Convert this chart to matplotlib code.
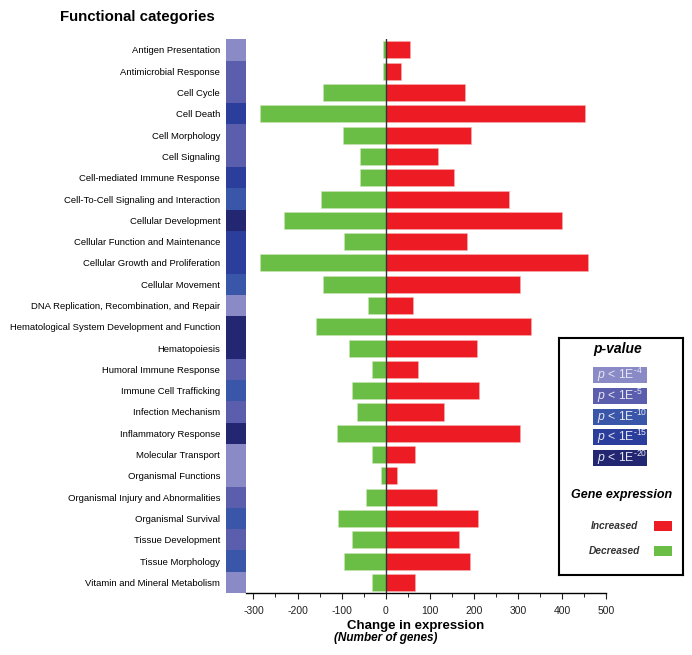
import matplotlib
matplotlib.use("Agg")
import matplotlib.pyplot as plt
from matplotlib.patches import Rectangle

plt.rcParams["font.family"] = ["Liberation Sans", "DejaVu Sans"]
plt.rcParams["mathtext.fontset"] = "custom"
plt.rcParams["mathtext.rm"] = "Liberation Sans"
plt.rcParams["mathtext.it"] = "Liberation Sans:italic"
plt.rcParams["axes.unicode_minus"] = False

categories = [
    "Antigen Presentation", "Antimicrobial Response", "Cell Cycle", "Cell Death",
    "Cell Morphology", "Cell Signaling", "Cell-mediated Immune Response",
    "Cell-To-Cell Signaling and Interaction", "Cellular Development",
    "Cellular Function and Maintenance", "Cellular Growth and Proliferation",
    "Cellular Movement", "DNA Replication, Recombination, and Repair",
    "Hematological System Development and Function", "Hematopoiesis",
    "Humoral Immune Response", "Immune Cell Trafficking", "Infection Mechanism",
    "Inflammatory Response", "Molecular Transport", "Organismal Functions",
    "Organismal Injury and Abnormalities", "Organismal Survival",
    "Tissue Development", "Tissue Morphology", "Vitamin and Mineral Metabolism",
]
increased = [55, 34, 179, 453, 193, 119, 156, 280, 400, 185, 460, 305, 63,
             330, 208, 74, 212, 132, 305, 66, 26, 117, 210, 167, 192, 66]
decreased = [-7, -7, -143, -285, -97, -58, -58, -147, -230, -95, -285, -143, -39,
             -159, -83, -31, -77, -64, -110, -31, -11, -45, -108, -77, -94, -32]
# p-value level per category: 1 = p<1E-4 ... 5 = p<1E-20
p_level = [1, 2, 2, 4, 2, 2, 4, 3, 5, 4, 4, 3, 1,
           5, 5, 2, 3, 2, 5, 1, 1, 2, 3, 2, 3, 1]
p_labels = ["4", "5", "10", "15", "20"]
p_colors = ["#8a8ac6", "#5b5ead", "#3a56a8", "#2b3e9b", "#232670"]
x_ticks = [-300, -200, -100, 0, 100, 200, 300, 400, 500]

RED = "#ed1c24"
GREEN = "#6abd45"

fig = plt.figure(figsize=(6.92, 6.55), dpi=100)
W, H = 692, 655
ax = fig.add_axes([225.7 / W, 1 - 593 / H, (606 - 225.7) / W, (593 - 39.3) / H])

n = len(categories)
ys = list(range(n))
ax.barh(ys, increased, height=0.8, color=RED, edgecolor="#f7b0b0", linewidth=0.4)
ax.barh(ys, decreased, height=0.8, color=GREEN, edgecolor="#c8e6b8", linewidth=0.4)

# p-value colour column
for y, lvl in zip(ys, p_level):
    ax.add_patch(Rectangle((-363, y - 0.5), 45, 1.0, color=p_colors[lvl - 1], lw=0))

ax.axvline(0, color="#333333", lw=1.0)
ax.set_xlim(-363, 500)
ax.set_ylim(n - 0.5, -0.5)

for s in ("top", "right", "left"):
    ax.spines[s].set_visible(False)
ax.spines["bottom"].set_bounds(-318, 500)
ax.spines["bottom"].set_linewidth(1.0)
ax.set_xticks(x_ticks)
ax.set_xticks([t + 50 for t in x_ticks[:-1]], minor=True)
ax.tick_params(axis="x", which="major", length=4, labelsize=7.5, pad=5, colors="#222222")
ax.tick_params(axis="x", which="minor", length=3)
ax.set_yticks(ys)
ax.set_yticklabels(categories, fontsize=6.8)
ax.tick_params(axis="y", length=0, pad=4)

ax.set_xlabel("Change in expression", fontsize=9.5, fontweight="bold", labelpad=3)
fig.text(385.7 / W, 1 - 638 / H, "(Number of genes)", fontsize=8.5, fontweight="bold",
         style="italic", ha="center", va="center")

fig.text(60 / W, 1 - 17 / H, "Functional categories", fontsize=10.8, fontweight="bold",
         ha="left", va="center")

# legend box
lax = fig.add_axes([559 / W, 1 - 575 / H, (683 - 559) / W, (575 - 338) / H])
lax.set_xlim(559, 683)
lax.set_ylim(575, 338)
lax.set_xticks([])
lax.set_yticks([])
for s in lax.spines.values():
    s.set_linewidth(1.5)
lax.text(618, 349, "p-value", fontsize=10, fontweight="bold", style="italic",
         ha="center", va="center")
for i, (lab, col) in enumerate(zip(p_labels, p_colors)):
    yc = 375 + i * 20.8
    lax.add_patch(Rectangle((593, yc - 8), 54, 16, color=col, lw=0))
    lax.text(597, yc, r"$p$ < 1E$^{\text{-}%s}$" % lab, fontsize=8.8, color="#e6e6f2",
             ha="left", va="center")
lax.text(622, 495, "Gene expression", fontsize=9, fontweight="bold", style="italic",
         ha="center", va="center")
lax.text(614, 526, "Increased", fontsize=7.3, fontweight="bold", style="italic",
         color="#333333", ha="center", va="center")
lax.add_patch(Rectangle((654, 521), 18, 10, color=RED, lw=0))
lax.text(614, 551, "Decreased", fontsize=7.3, fontweight="bold", style="italic",
         color="#333333", ha="center", va="center")
lax.add_patch(Rectangle((654, 546), 18, 10, color=GREEN, lw=0))

fig.savefig("out.png", dpi=100)
